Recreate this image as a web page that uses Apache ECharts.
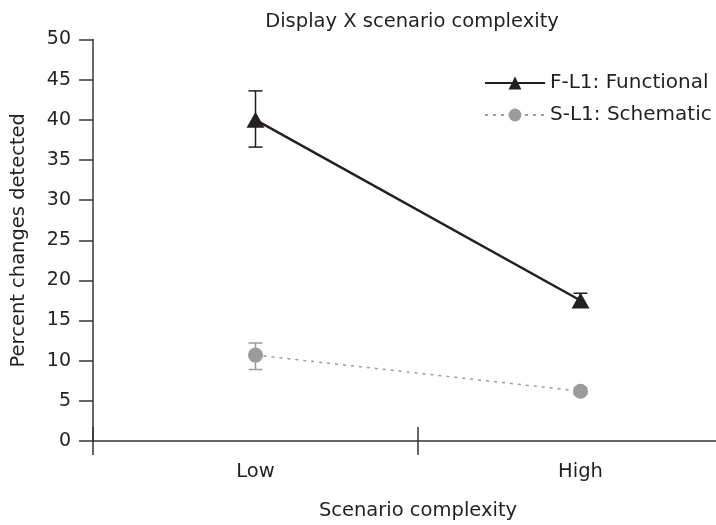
<!DOCTYPE html>
<html>
<head>
<meta charset="utf-8">
<script src="https://cdn.jsdelivr.net/npm/echarts@6/dist/echarts.min.js"></script>
<style>
  html, body { margin: 0; padding: 0; background: #fff; }
  #chart { width: 716px; height: 525px; }
</style>
</head>
<body>
<div id="chart"></div>
<script>
// data
const categories = ["Low", "High"]
const functionalMean = [40.0, 17.5]
const functionalLow = [36.6, 16.7]
const functionalHigh = [43.6, 18.4]
const schematicMean = [10.7, 6.2]
const schematicLow = [8.9, 5.8]
const schematicHigh = [12.2, 6.6]
const yTicks = [0, 5, 10, 15, 20, 25, 30, 35, 40, 45, 50]

const black = "#231f20"
const grey = "#9b9b9d"
const font = "'DejaVu Sans', sans-serif"

function errorBars(lows, highs) {
  return categories.map((c, i) => [i, lows[i], highs[i]])
}

function errorRenderer(color) {
  return function (params, api) {
    const top = api.coord([api.value(0), api.value(2)])
    const bottom = api.coord([api.value(0), api.value(1)])
    const cap = 7
    const style = { stroke: color, lineWidth: 1.5 }
    return {
      type: "group",
      children: [
        { type: "line", shape: { x1: top[0], y1: top[1], x2: bottom[0], y2: bottom[1] }, style },
        { type: "line", shape: { x1: top[0] - cap, y1: top[1], x2: top[0] + cap, y2: top[1] }, style },
        { type: "line", shape: { x1: bottom[0] - cap, y1: bottom[1], x2: bottom[0] + cap, y2: bottom[1] }, style },
      ],
    }
  }
}

const chart = echarts.init(document.getElementById("chart"))
const axisColor = "#333"
const textColor = "#231f20"

chart.setOption({
  animation: false,
  title: {
    text: "Display X scenario complexity",
    left: 407,
    textAlign: "center",
    top: 7,
    textStyle: { fontFamily: font, fontSize: 19.5, fontWeight: "normal", color: textColor },
  },
  legend: {
    orient: "vertical",
    left: 479,
    top: 68,
    itemWidth: 60,
    itemHeight: 16,
    itemGap: 12,
    textStyle: { fontFamily: font, fontSize: 20, color: textColor },
    data: ["F-L1: Functional", "S-L1: Schematic"],
  },
  grid: { left: 93, top: 39.5, width: 650, height: 401.5, outerBoundsMode: "none" },
  xAxis: [
    {
      type: "category",
      data: categories,
      position: "bottom",
      name: "Scenario complexity",
      nameLocation: "middle",
      nameGap: 60,
      nameTextStyle: { fontFamily: font, fontSize: 19.5, color: textColor },
      axisLine: { show: true, lineStyle: { color: axisColor, width: 1.5 } },
      axisTick: { show: true, length: 14, lineStyle: { color: axisColor, width: 1.5 } },
      axisLabel: { margin: 21, fontFamily: font, fontSize: 19.5, color: textColor },
    },
    {
      type: "category",
      data: categories,
      position: "bottom",
      axisLine: { show: false },
      axisTick: { show: true, inside: true, length: 14, lineStyle: { color: axisColor, width: 1.5 } },
      axisLabel: { show: false },
    },
  ],
  yAxis: {
    type: "value",
    min: yTicks[0],
    max: yTicks[yTicks.length - 1],
    interval: yTicks[1] - yTicks[0],
    name: "Percent changes detected",
    nameLocation: "middle",
    nameGap: 64,
    nameTextStyle: { fontFamily: font, fontSize: 19.5, color: textColor },
    splitLine: { show: false },
    axisLine: { show: true, lineStyle: { color: axisColor, width: 1.5 } },
    axisTick: { show: true, length: 14, lineStyle: { color: axisColor, width: 1.5 } },
    axisLabel: { margin: 22, fontFamily: font, fontSize: 19, color: textColor },
  },
  series: [
    {
      type: "custom",
      renderItem: errorRenderer(grey),
      data: errorBars(schematicLow, schematicHigh),
      z: 1,
      silent: true,
    },
    {
      type: "custom",
      renderItem: errorRenderer(black),
      data: errorBars(functionalLow, functionalHigh),
      z: 1,
      silent: true,
    },
    {
      name: "S-L1: Schematic",
      type: "line",
      data: schematicMean,
      symbol: "circle",
      symbolSize: 15,
      itemStyle: { color: grey },
      lineStyle: { color: grey, width: 1.5, type: [3, 5] },
      z: 3,
    },
    {
      name: "F-L1: Functional",
      type: "line",
      data: functionalMean,
      symbol: "triangle",
      symbolSize: [18, 16],
      itemStyle: { color: black },
      lineStyle: { color: black, width: 2.5 },
      z: 3,
    },
  ],
})
</script>
</body>
</html>
